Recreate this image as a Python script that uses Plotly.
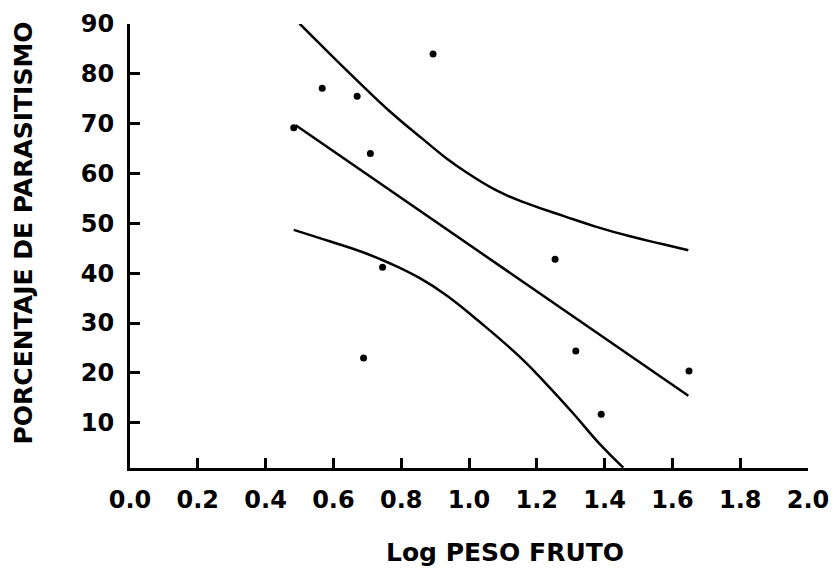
import plotly.graph_objects as go

# Observed data points (Log fruit weight vs % parasitism)
log_peso = [0.483, 0.567, 0.670, 0.709, 0.745, 0.689, 0.894, 1.254, 1.315, 1.390, 1.649]
parasitismo = [69.2, 77.1, 75.5, 64.0, 41.2, 23.0, 84.0, 42.8, 24.4, 11.7, 20.4]

# Regression line (endpoints)
reg_x = [0.489, 1.647]
reg_y = [69.7, 15.4]

# Upper confidence band
up_x = [0.500, 0.569, 0.668, 0.766, 0.864, 0.938, 0.982, 1.081, 1.179, 1.278, 1.376, 1.475, 1.573, 1.647]
up_y = [90.1, 85.4, 78.8, 72.5, 66.9, 62.8, 60.7, 56.6, 53.8, 51.5, 49.3, 47.4, 45.8, 44.6]

# Lower confidence band
lo_x = [0.483, 0.589, 0.687, 0.766, 0.855, 0.933, 1.032, 1.150, 1.229, 1.307, 1.386, 1.455]
lo_y = [48.7, 46.4, 44.2, 42.0, 39.0, 35.6, 30.2, 23.2, 17.7, 11.9, 5.7, 1.0]

x_ticks = [0.0, 0.2, 0.4, 0.6, 0.8, 1.0, 1.2, 1.4, 1.6, 1.8, 2.0]
y_ticks = [10, 20, 30, 40, 50, 60, 70, 80, 90]

x_title = "Log PESO FRUTO"
y_title = "PORCENTAJE DE PARASITISMO"

W, H = 835, 571
ml, mr, mt, mb = 130, 27, 24, 103
pw = W - ml - mr
ph = H - mt - mb

line_style = dict(color="black", width=2.5)

fig = go.Figure()
fig.add_trace(go.Scatter(x=up_x, y=up_y, mode="lines", line=dict(shape="spline", smoothing=1.3, **line_style),
                         showlegend=False, hoverinfo="skip"))
fig.add_trace(go.Scatter(x=reg_x, y=reg_y, mode="lines", line=line_style, showlegend=False))
fig.add_trace(go.Scatter(x=lo_x, y=lo_y, mode="lines", line=dict(shape="spline", smoothing=1.3, **line_style),
                         showlegend=False, hoverinfo="skip"))
fig.add_trace(go.Scatter(x=log_peso, y=parasitismo, mode="markers",
                         marker=dict(color="black", size=7), showlegend=False))

tick_font = dict(family="DejaVu Sans", size=24, color="black", weight="bold")
title_font = dict(family="DejaVu Sans", size=25, color="black", weight="bold")

fig.update_layout(
    width=W, height=H,
    margin=dict(l=ml, r=mr, t=mt, b=mb, pad=0, autoexpand=False),
    paper_bgcolor="white", plot_bgcolor="white",
    xaxis=dict(range=[0.0, 2.0], tickvals=x_ticks, ticktext=[f"{v:.1f}" for v in x_ticks],
               showgrid=False, zeroline=False, showline=True, linecolor="black", linewidth=3,
               ticks="inside", ticklen=10, tickwidth=2.5, tickcolor="black", automargin=False,
               tickfont=tick_font, ticklabelstandoff=8),
    yaxis=dict(range=[0.92, 90], tickvals=y_ticks, ticktext=[str(v) for v in y_ticks],
               showgrid=False, zeroline=False, showline=True, linecolor="black", linewidth=3,
               ticks="inside", ticklen=10, tickwidth=2.5, tickcolor="black", automargin=False,
               tickfont=tick_font, ticklabelstandoff=8),
    annotations=[
        dict(text=x_title, xref="paper", yref="paper", x=(505 - ml) / pw, y=(H - mb - 552) / ph,
             xanchor="center", yanchor="middle", showarrow=False, font=title_font),
        dict(text=y_title, xref="paper", yref="paper", x=(23 - ml) / pw, y=(H - mb - 233.5) / ph,
             xanchor="center", yanchor="middle", textangle=-90, showarrow=False, font=title_font),
    ],
)

fig.write_html("out.html")
